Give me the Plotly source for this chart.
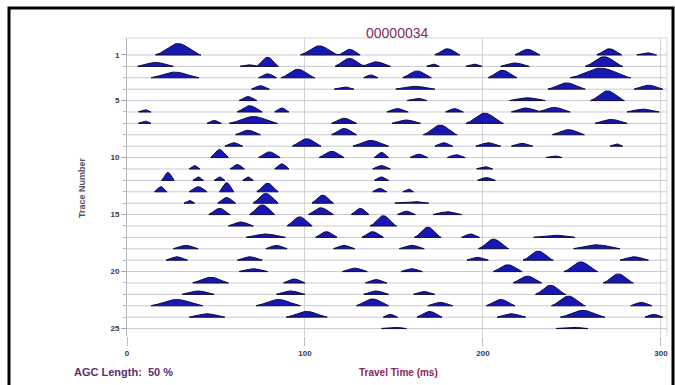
import numpy as np
import plotly.graph_objects as go

# ---------------- data ----------------
title_text = "00000034"
y_tick_values = [1, 5, 10, 15, 20, 25]
x_tick_values = [0, 100, 200, 300]
trace_numbers = list(range(1, 26))

# events: trace number, arrival time (ms), amplitude (trace spacings), half-width (ms)
event_trace = (
    [1]*7 + [2]*9 + [3]*7 + [4]*5 + [5]*4 + [6]*8 + [7]*7 + [8]*4 + [9]*7 + [10]*7 +
    [11]*5 + [12]*6 + [13]*6 + [14]*5 + [15]*6 + [16]*3 + [17]*6 + [18]*6 + [19]*5 +
    [20]*5 + [21]*5 + [22]*5 + [23]*7 + [24]*7 + [25]*2
)
event_time = [
    28.7, 108, 125, 180, 225, 271, 292,
    16, 68, 79, 125, 140, 172, 195, 218, 268,
    27, 79, 96, 137, 163, 211, 266,
    75, 122, 162, 247, 293,
    68, 163, 225, 270,
    10, 69, 87, 152, 184, 224, 240, 290,
    10, 49, 71, 122, 157, 201, 272,
    68, 122, 176, 248,
    60, 101, 137, 178, 203, 222, 275,
    52, 80, 115, 143, 164, 185, 240,
    38, 62, 87, 143, 201,
    23, 40, 52, 68, 143, 202,
    19, 40, 56, 79, 142, 158,
    35, 56, 78, 110, 160,
    52, 76, 109, 131, 157, 180,
    64, 97, 144,
    78, 112, 138, 169, 193, 240,
    33, 84, 122, 160, 206, 264,
    28, 69, 197, 231, 285,
    71, 128, 160, 214, 255,
    47, 94, 140, 225, 276,
    40, 92, 140, 167, 238,
    28, 85, 138, 176, 210, 248, 289,
    45, 101, 148, 170, 216, 256, 296,
    150, 250,
]
event_amp = [
    1.0, 0.8, 0.5, 0.55, 0.5, 0.55, 0.2,
    0.35, 0.15, 0.8, 0.7, 0.4, 0.2, 0.2, 0.3, 0.85,
    0.5, 0.35, 0.75, 0.25, 0.6, 0.65, 0.85,
    0.3, 0.2, 0.25, 0.55, 0.35,
    0.35, 0.2, 0.25, 0.85,
    0.2, 0.55, 0.35, 0.3, 0.3, 0.35, 0.4, 0.25,
    0.2, 0.25, 0.6, 0.45, 0.3, 0.9, 0.35,
    0.4, 0.55, 0.85, 0.45,
    0.3, 0.65, 0.5, 0.3, 0.3, 0.25, 0.2,
    0.7, 0.5, 0.55, 0.45, 0.3, 0.25, 0.15,
    0.3, 0.4, 0.45, 0.3, 0.2,
    0.7, 0.3, 0.3, 0.3, 0.3, 0.25,
    0.45, 0.45, 0.8, 0.75, 0.3, 0.25,
    0.25, 0.5, 0.85, 0.7, 0.15,
    0.55, 0.85, 0.6, 0.55, 0.3, 0.25,
    0.35, 0.8, 0.9,
    0.3, 0.5, 0.5, 0.9, 0.3, 0.2,
    0.3, 0.3, 0.3, 0.3, 0.85, 0.35,
    0.3, 0.3, 0.25, 0.8, 0.3,
    0.25, 0.3, 0.25, 0.6, 0.85,
    0.5, 0.35, 0.3, 0.6, 0.8,
    0.3, 0.3, 0.3, 0.25, 0.8,
    0.55, 0.55, 0.6, 0.3, 0.55, 0.85, 0.3,
    0.3, 0.5, 0.25, 0.5, 0.3, 0.6, 0.25,
    0.12, 0.12,
]
event_halfwidth = [
    12, 10, 6, 7, 7, 7, 6,
    10, 5, 6, 8, 8, 4, 5, 8, 10,
    13, 5, 9, 4, 8, 8, 16,
    5, 6, 11, 10, 8,
    5, 6, 10, 9,
    4, 7, 4, 6, 5, 8, 9, 9,
    4, 4, 13, 7, 8, 10, 9,
    7, 7, 9, 9,
    5, 8, 10, 5, 7, 6, 4,
    5, 6, 7, 4, 5, 5, 5,
    3, 4, 4, 5, 5,
    3.5, 3, 3, 3, 4, 5,
    3.5, 5, 4, 6, 4, 3,
    3, 5, 7, 6, 10,
    6, 7, 7, 5, 5, 8,
    7, 7, 7,
    11, 6, 6, 7, 5, 12,
    7, 6, 6, 7, 8, 13,
    6, 7, 6, 8, 8,
    8, 7, 6, 8, 9,
    10, 6, 6, 8, 8,
    9, 8, 7, 6, 8,
    14, 12, 9, 7, 8, 9, 6,
    10, 11, 4, 7, 8, 12, 5,
    8, 10,
]

# ---------------- geometry ----------------
W, H = 675, 385
L, R, T, B = 127, 8, 38, 49
X_RANGE = [0, 303.4]
Y_RANGE = [25.65, -0.49]
pw, ph = W - L - R, H - T - B


def px(x):
    return (x - L) / pw


def py(y):
    return (H - B - y) / ph


t_grid = np.arange(X_RANGE[0], X_RANGE[1] + 0.25, 0.5)

fig = go.Figure()

# baselines
bx, by = [], []
for n in trace_numbers:
    bx += [X_RANGE[0], X_RANGE[1], None]
    by += [n, n, None]
fig.add_trace(go.Scatter(x=bx, y=by, mode="lines",
                         line=dict(color="#c9c9d3", width=1),
                         hoverinfo="skip", showlegend=False))

# variable-area lobes
ev_n = np.array(event_trace)
ev_t = np.array(event_time, dtype=float)
ev_a = np.array(event_amp, dtype=float)
ev_w = np.array(event_halfwidth, dtype=float) * 1.15

for n in trace_numbers:
    s = np.zeros_like(t_grid)
    for t0, a, w in zip(ev_t[ev_n == n], ev_a[ev_n == n], ev_w[ev_n == n]):
        u = (t_grid - t0) / w
        s += np.where(np.abs(u) < 1, a * np.cos(np.pi * u / 2) ** 2, 0.0)
    mask = s > 0.01
    xs, ys = [], []
    i = 0
    while i < len(t_grid):
        if mask[i]:
            j = i
            while j < len(t_grid) and mask[j]:
                j += 1
            seg_t = t_grid[i:j]
            seg_s = s[i:j]
            xs += list(seg_t) + [seg_t[-1], seg_t[0], seg_t[0], None]
            ys += list(n - seg_s) + [n, n, n - seg_s[0], None]
            i = j
        else:
            i += 1
    if xs:
        fig.add_trace(go.Scatter(x=xs, y=ys, mode="lines", fill="toself",
                                 fillcolor="#1717b2",
                                 line=dict(color="#0c0c44", width=1),
                                 hoverinfo="skip", showlegend=False))

tick_font = dict(family="Liberation Sans", size=8, color="#3a3a3a", weight="bold")

fig.update_layout(
    width=W, height=H,
    margin=dict(l=L, r=R, t=T, b=B, autoexpand=False),
    paper_bgcolor="white", plot_bgcolor="white",
    showlegend=False,
    xaxis=dict(range=X_RANGE, tickmode="array", tickvals=x_tick_values,
               ticks="outside", ticklen=9, tickcolor="#bdbdbd",
               showgrid=True, gridcolor="#d4d4d4", gridwidth=1,
               zeroline=False, showline=False, tickfont=tick_font),
    yaxis=dict(range=Y_RANGE, tickmode="array", tickvals=y_tick_values,
               ticks="outside", ticklen=5, tickcolor="#a8a8b0",
               minor=dict(tickmode="array", tickvals=trace_numbers,
                          ticks="outside", ticklen=3, tickcolor="#b8b8c0"),
               showgrid=False, zeroline=False, showline=True,
               linecolor="#b4b4bc", linewidth=1, tickfont=tick_font),
    shapes=[
        dict(type="line", xref="paper", yref="paper", x0=0, x1=1, y0=1, y1=1,
             line=dict(color="#d6d6d6", width=1)),
        dict(type="line", xref="paper", yref="paper", x0=1, x1=1, y0=0, y1=1,
             line=dict(color="#d6d6d6", width=1)),
        dict(type="rect", xref="paper", yref="paper",
             x0=px(9), x1=px(673), y0=py(8), y1=py(392),
             line=dict(color="black", width=3)),
    ],
    annotations=[
        dict(text=title_text, x=px(397), y=py(33), xref="paper", yref="paper",
             xanchor="center", yanchor="middle", showarrow=False,
             font=dict(family="Liberation Sans", size=14, color="#862a66")),
        dict(text="Trace Number", x=px(82), y=py(188), xref="paper", yref="paper",
             xanchor="center", yanchor="middle", showarrow=False, textangle=-90,
             font=dict(family="Liberation Sans", size=9, color="#55505e", weight="bold")),
        dict(text="AGC Length:  50 %", x=px(72), y=py(372), xref="paper", yref="paper",
             xanchor="left", yanchor="middle", showarrow=False,
             font=dict(family="Liberation Sans", size=11, color="#5a2f6e", weight="bold")),
        dict(text="Travel Time (ms)", x=px(398), y=py(372), xref="paper", yref="paper",
             xanchor="center", yanchor="middle", showarrow=False,
             font=dict(family="Liberation Sans", size=10, color="#8c2458", weight="bold")),
    ],
)

fig.write_html(
    "out.html",
    config={"displayModeBar": False},
    post_script="document.body.style.margin='0';document.body.style.overflow='hidden';",
)
